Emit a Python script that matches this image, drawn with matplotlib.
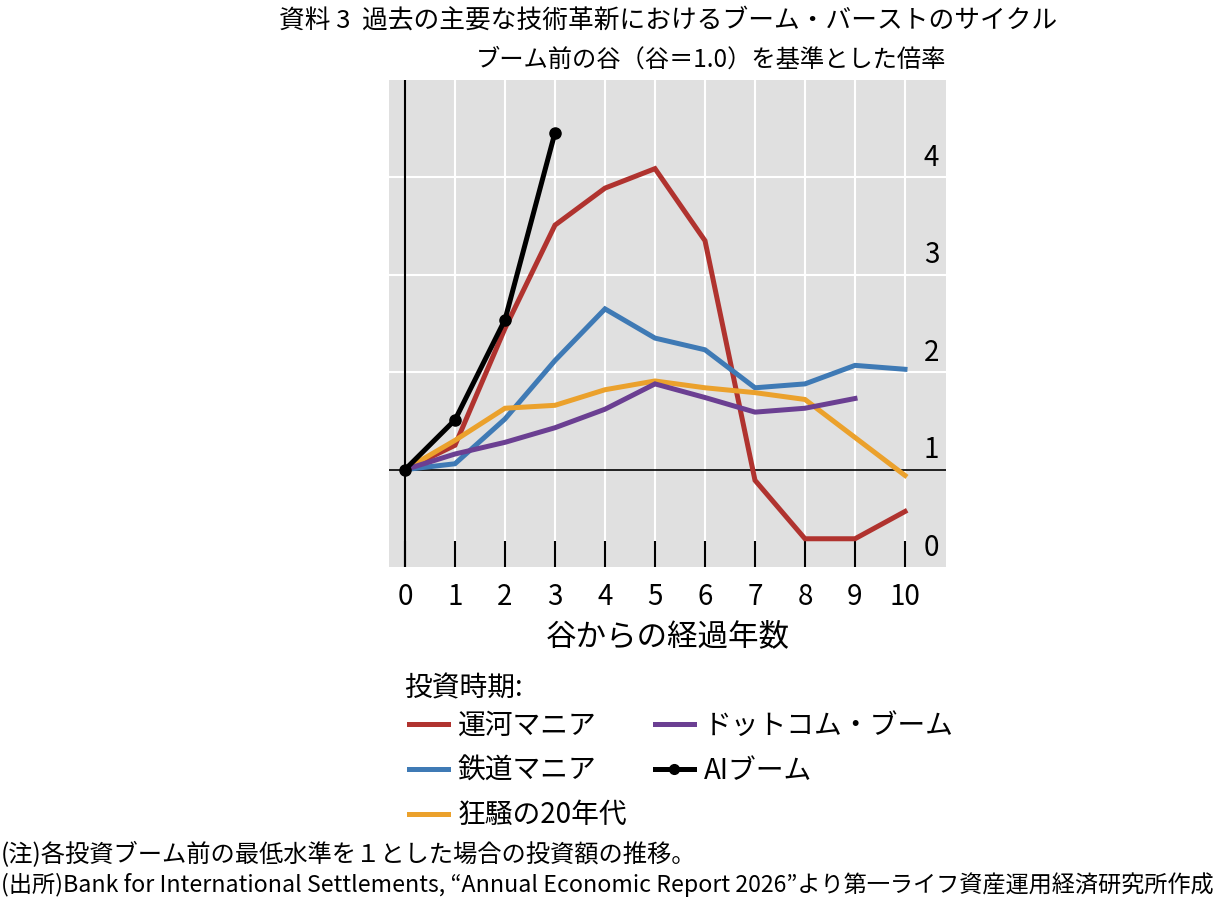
import matplotlib.pyplot as plt
from matplotlib.lines import Line2D

plt.rcParams['font.family'] = ['Noto Sans CJK JP', 'DejaVu Sans']

# ---- data ----
years = list(range(11))
canal = [1.0, 1.25, 2.45, 3.51, 3.89, 4.09, 3.35, 0.89, 0.29, 0.29, 0.57]
railway = [1.0, 1.06, 1.52, 2.12, 2.65, 2.35, 2.23, 1.84, 1.88, 2.07, 2.03]
roaring = [1.0, 1.30, 1.63, 1.66, 1.82, 1.91, 1.84, 1.79, 1.72, 1.33, 0.94]
dotcom = [1.0, 1.16, 1.28, 1.43, 1.62, 1.88, 1.74, 1.59, 1.63, 1.73]
ai_boom = [1.0, 1.51, 2.54, 4.46]

labels = ['運河マニア', '鉄道マニア', '狂騒の20年代', 'ドットコム・ブーム', 'AIブーム']
colors = ['#b0332f', '#3f7ab5', '#eba12c', '#6b3f92', '#000000']
yticks = [0, 1, 2, 3, 4]
xticks = years

fig = plt.figure(figsize=(12.17, 9.0), dpi=100)
ax = fig.add_axes([389 / 1217, 1 - 567 / 900, 557 / 1217, 487 / 900])
ax.set_facecolor('#e0e0e0')
for s in ax.spines.values():
    s.set_visible(False)

ax.set_xlim(-0.32, 10.82)
ax.set_ylim(0, 5.0)

# grid
for x in xticks[1:]:
    ax.axvline(x, color='white', lw=1.5, zorder=1)
for y in [2, 3, 4]:
    ax.axhline(y, color='white', lw=1.5, zorder=1)
ax.axvline(0, color='black', lw=1.5, zorder=2)
ax.axhline(1, color='black', lw=1.2, zorder=2)

series = [canal, railway, roaring, dotcom]
for vals, lab, c in zip(series, labels[:4], colors[:4]):
    ax.plot(years[:len(vals)], vals, color=c, lw=3.6, label=lab, zorder=3,
            solid_joinstyle='miter')
ax.plot(years[:len(ai_boom)], ai_boom, color='black', lw=3.6, marker='o',
        markersize=8, label=labels[4], zorder=4)

ax.set_xticks(xticks)
ax.set_xticklabels([str(x) for x in xticks], fontsize=20)
ax.tick_params(axis='x', direction='in', length=19, width=1.5, pad=11,
               colors='black')
ax.set_yticks([])
ax.set_xlabel('谷からの経過年数', fontsize=22, labelpad=6)

# right-hand value labels, sitting above their lines
tr = ax.get_yaxis_transform()
for v in yticks:
    ax.text(0.974, v + 0.2, str(v), transform=tr, ha='center', va='center',
            fontsize=20)

# titles
fig.text(668 / 1217, 1 - 21 / 900, '資料 3  過去の主要な技術革新におけるブーム・バーストのサイクル',
         ha='center', va='center', fontsize=18.5)
fig.text(946 / 1217, 1 - 60 / 900, 'ブーム前の谷（谷＝1.0）を基準とした倍率',
         ha='right', va='center', fontsize=17.5)

# legend (title drawn separately so its gap can differ from the row gap)
fig.text(404 / 1217, 1 - 688 / 900, '投資時期:', ha='left', va='center',
         fontsize=20)
handles = [Line2D([], [], color=c, lw=3.6) for c in colors[:4]]
handles.append(Line2D([], [], color='black', lw=3.6, marker='o', markersize=7))
leg = fig.legend(handles, labels, loc='upper left', ncol=2,
                 bbox_to_anchor=(395 / 1217, 1 - 697 / 900), frameon=False,
                 fontsize=20, handlelength=1.4, handletextpad=0.35,
                 columnspacing=1.0, labelspacing=0.53, borderpad=0)

# notes
fig.text(0.001, 1 - 855 / 900, '(注)各投資ブーム前の最低水準を１とした場合の投資額の推移。',
         ha='left', va='center', fontsize=17.5)
fig.text(0.001, 1 - 885 / 900,
         '(出所)Bank for International Settlements, “Annual Economic Report 2026”より第一ライフ資産運用経済研究所作成',
         ha='left', va='center', fontsize=16.7)

fig.savefig('out.png', dpi=100)
